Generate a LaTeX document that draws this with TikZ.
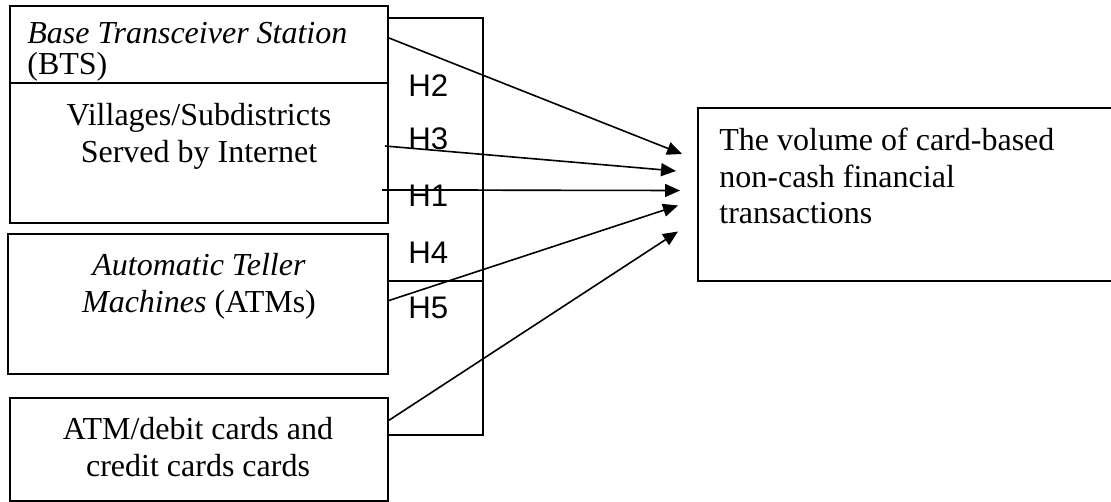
\documentclass[tikz,border=0pt]{standalone}
\usepackage{fontspec}
\setmainfont{Liberation Serif}
\newfontfamily\hfont{Liberation Sans}
\usetikzlibrary{arrows.meta}
\usetikzlibrary{calc}
\tikzstyle{line} = [draw, line width=0.8pt, -{Triangle[length=7.5pt,width=6.5pt]}]

\begin{document}
\begin{tikzpicture}[x=0.5pt, y=-0.5pt,
	box/.style={draw, rectangle, line width=1pt},
	txt/.style={inner sep=0pt, font=\fontsize{16}{18.2}\selectfont},
	hyp/.style={inner sep=0pt, anchor=base west, font=\hfont\fontsize{15.6}{18}\selectfont}]
	\useasboundingbox (0,0) rectangle (1111,502);
	%% Boxes
	\node [box, minimum width=189pt, minimum height=38.5pt] at (199,44.5) (bts) {};
	\node [box, minimum width=189pt, minimum height=70pt] at (199,153) (vil) {};
	\node [box, minimum width=190pt, minimum height=70pt] at (198,304) (atm) {};
	\node [box, minimum width=189pt, minimum height=51.25pt] at (199,449.25) (card) {};
	\node [box, minimum width=208pt, minimum height=86.5pt] at (906,194.5) (dv) {};
	%% Texts
	\node [txt, anchor=north west, align=left, font=\fontsize{16}{15.6}\selectfont] at (27,21.5) (btstxt) {\textit{Base Transceiver Station}\\(BTS)};
	\node [txt, anchor=north, align=center] at (199,103) (viltxt) {Villages/Subdistricts\\Served by Internet};
	\node [txt, anchor=north, align=center] at (199,253) (atmtxt) {\textit{Automatic Teller}\\\textit{Machines} (ATMs)};
	\node [txt, anchor=north, align=center] at (198,417) (cardtxt) {ATM/debit cards and\\credit cards cards};
	\node [txt, anchor=north west, align=left] at (719,128) (dvtxt) {The volume of card-based\\non-cash financial\\transactions};
	%% Bracket
	\coordinate (brt) at (483,18);
	\coordinate (brb) at (483,435);
	\draw [line width=0.8pt] ($(bts.east |- brt)+(-2,0)$) -- (brt) -- (brb) -- (card.east |- brb);
	\draw [line width=0.8pt] ($(vil.east)+(-7,37)$) -- ++(96,0);
	\draw [line width=0.8pt] ($(atm.east)+(-2,-23)$) -- ++(96,0);
	%% Hypotheses
	\node [hyp] at (408,96.7) (h2) {H2};
	\node [hyp] at (408,150) (h3) {H3};
	\node [hyp] at (408,206.7) (h1) {H1};
	\node [hyp] at (408,263.3) (h4) {H4};
	\node [hyp] at (408,318.3) (h5) {H5};
	%% Arrows
	\path [line] ($(bts.east)+(0,-6.5)$) to ($(dv.west)+(-15,-40.5)$);
	\path [line] ($(vil.east)+(-4,-7)$) to ($(dv.west)+(-21,-23.5)$);
	\path [line] ($(vil.east)+(-6,37)$) to ($(dv.west)+(-17,-4)$);
	\path [line] ($(atm.east)+(0,-3.5)$) to ($(dv.west)+(-19,11)$);
	\path [line] ($(card.east)+(0,-29)$) to ($(dv.west)+(-19,37)$);
\end{tikzpicture}
\end{document}
